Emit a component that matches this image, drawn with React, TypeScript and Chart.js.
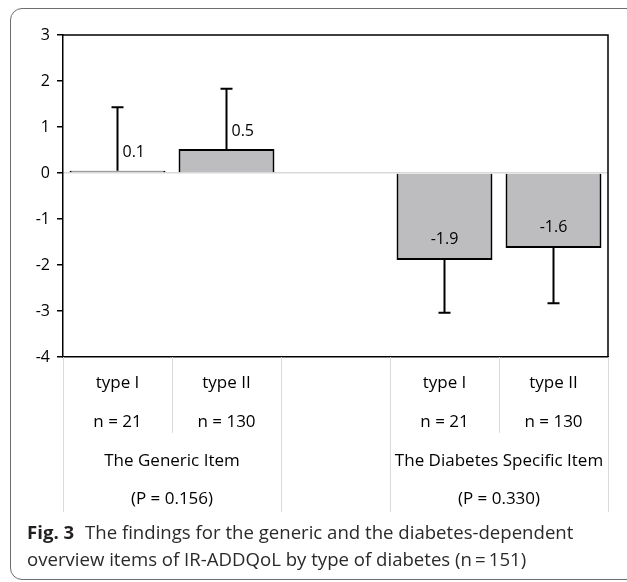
import React, { useEffect, useRef } from "react";
import { Chart, registerables } from "chart.js";

Chart.register(...registerables);

// ---- data ----
const categories = ["type I", "type II", "", "type I", "type II"];
const sampleSizes = ["n = 21", "n = 130", "", "n = 21", "n = 130"];
const means: (number | null)[] = [0.05, 0.52, null, -1.89, -1.63];
const meanLabels = ["0.1", "0.5", "", "-1.9", "-1.6"];
const errorSD: (number | null)[] = [1.38, 1.31, null, 1.15, 1.2];
const groupNames = ["The Generic Item", "", "The Diabetes Specific Item"];
const groupPValues = ["(P = 0.156)", "", "(P = 0.330)"];
const groupSpans = [2, 1, 2];
const yMin = -4;
const yMax = 3;

const FONT = "'Open Sans', 'Noto Sans', sans-serif";

const overlayPlugin = {
  id: "overlay",
  afterDatasetsDraw(chart: any) {
    const { ctx, chartArea: a, scales } = chart;
    const xs = scales.x;
    const ys = scales.y;
    const meta = chart.getDatasetMeta(0);
    ctx.save();

    // plot frame (top + right)
    ctx.strokeStyle = "#000";
    ctx.lineWidth = 1.5;
    ctx.beginPath();
    ctx.moveTo(a.left, a.top);
    ctx.lineTo(a.right, a.top);
    ctx.lineTo(a.right, a.bottom);
    ctx.stroke();

    // error bars
    ctx.lineWidth = 2;
    means.forEach((m, i) => {
      const sd = errorSD[i];
      if (m == null || sd == null) return;
      const px = meta.data[i].x;
      const y0 = ys.getPixelForValue(m);
      const y1 = ys.getPixelForValue(m >= 0 ? m + sd : m - sd);
      ctx.beginPath();
      ctx.moveTo(px, y0);
      ctx.lineTo(px, y1);
      ctx.moveTo(px - 6, y1);
      ctx.lineTo(px + 6, y1);
      ctx.stroke();
    });

    // value labels
    ctx.fillStyle = "#000";
    ctx.font = `16px ${FONT}`;
    ctx.textBaseline = "middle";
    means.forEach((m, i) => {
      if (m == null) return;
      const px = meta.data[i].x;
      const py = ys.getPixelForValue(m);
      if (m >= 0) {
        ctx.textAlign = "left";
        ctx.fillText(meanLabels[i], px + 5, py - 18);
      } else {
        ctx.textAlign = "center";
        ctx.fillText(meanLabels[i], px, py - 21);
      }
    });

    // multi-level category axis
    const slot = xs.getPixelForValue(1) - xs.getPixelForValue(0);
    const left = xs.getPixelForValue(0) - slot / 2;
    const bottom = a.bottom;
    const groupEdges = [0];
    groupSpans.forEach((s) => groupEdges.push(groupEdges[groupEdges.length - 1] + s));

    ctx.strokeStyle = "#d9d9d9";
    ctx.lineWidth = 1;
    for (let k = 0; k <= categories.length; k++) {
      const bx = Math.round(left + k * slot) + 0.5;
      const long = groupEdges.includes(k);
      ctx.beginPath();
      ctx.moveTo(bx, bottom);
      ctx.lineTo(bx, bottom + (long ? 155 : 76));
      ctx.stroke();
    }

    ctx.fillStyle = "#000";
    ctx.font = `17px ${FONT}`;
    ctx.textAlign = "center";
    categories.forEach((c, i) => {
      const cx = xs.getPixelForValue(i);
      if (c) ctx.fillText(c, cx, bottom + 26);
      if (sampleSizes[i]) ctx.fillText(sampleSizes[i], cx, bottom + 65);
    });
    groupNames.forEach((g, gi) => {
      const cx = left + ((groupEdges[gi] + groupEdges[gi + 1]) / 2) * slot;
      if (g) ctx.fillText(g, cx, bottom + 104);
      if (groupPValues[gi]) ctx.fillText(groupPValues[gi], cx, bottom + 142);
    });

    ctx.restore();
  },
};

export default function App() {
  const ref = useRef<HTMLCanvasElement | null>(null);

  useEffect(() => {
    if (!ref.current) return;
    const chart = new Chart(ref.current, {
      type: "bar",
      data: {
        labels: categories,
        datasets: [
          {
            data: means as any,
            backgroundColor: "#bdbdbf",
            borderColor: "#000",
            borderWidth: 2,
            barPercentage: 0.88,
            categoryPercentage: 1,
          },
        ],
      },
      options: {
        animation: false,
        responsive: false,
        devicePixelRatio: 1,
        layout: { padding: { left: 0, top: 35, right: 19, bottom: 225 } },
        plugins: {
          legend: { display: false },
          tooltip: { enabled: false },
        },
        scales: {
          x: {
            grid: { display: false },
            ticks: { display: false },
            border: { display: true, color: "#000", width: 1.5 },
            afterFit: (s: any) => {
              s.height = 0;
            },
          },
          y: {
            min: yMin,
            max: yMax,
            ticks: {
              stepSize: 1,
              color: "#000",
              padding: 7,
              font: { family: FONT, size: 16 },
            },
            grid: {
              color: (c: any) => (c.tick && c.tick.value === 0 ? "#d9d9d9" : "rgba(0,0,0,0)"),
              tickColor: "#000",
              tickLength: 6,
              lineWidth: 1.5,
            },
            border: { display: true, color: "#000", width: 1.5 },
            afterFit: (s: any) => {
              s.width = 63;
            },
          },
        },
      },
      plugins: [overlayPlugin],
    });
    return () => chart.destroy();
  }, []);

  return (
    <div
      style={{
        position: "fixed",
        left: 0,
        top: 0,
        width: 627,
        height: 582,
        background: "#fff",
        overflow: "hidden",
      }}
    >
      <div
        style={{
          position: "absolute",
          left: 10,
          top: 8,
          width: 660,
          height: 570,
          border: "1.3px solid #6e6e6e",
          borderRadius: 12,
        }}
      />
      <canvas
        ref={ref}
        width={627}
        height={582}
        style={{ position: "absolute", left: 0, top: 0, width: 627, height: 582 }}
      />
      <div
        style={{
          position: "absolute",
          left: 27,
          top: 518,
          fontFamily: FONT,
          fontSize: 18.6,
          lineHeight: "27px",
          color: "#2a2a2a",
          whiteSpace: "nowrap",
        }}
      >
        <span style={{ fontWeight: 700, color: "#231f20", marginRight: 6 }}>Fig. 3</span> The findings
        for the generic and the diabetes-dependent
        <br />
        overview items of IR-ADDQoL by type of diabetes (n{"\u2009"}={"\u2009"}151)
      </div>
    </div>
  );
}
